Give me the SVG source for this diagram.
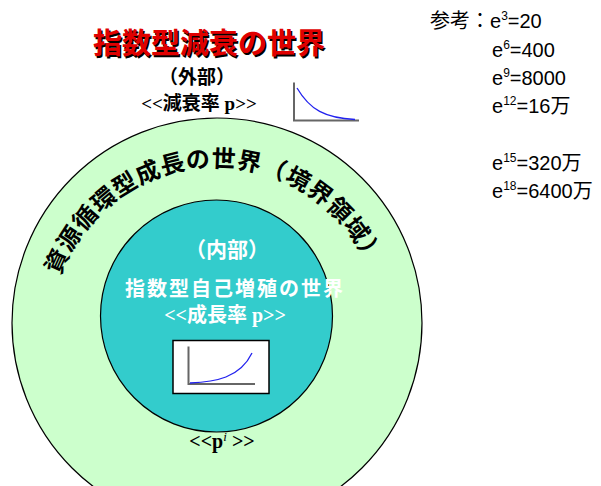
<svg xmlns="http://www.w3.org/2000/svg" xmlns:xlink="http://www.w3.org/1999/xlink" width="601" height="486" viewBox="0 0 601 486">
<style>
.jp{font-family:"Liberation Serif","Noto Sans CJK JP",serif;font-weight:bold;}
.note{font-family:"Liberation Sans","Noto Sans CJK JP",sans-serif;font-size:20px;fill:#000;}
.sup{font-size:12px;}
.axis{stroke:#666;stroke-width:2;fill:none;}
.curve{stroke:#2222ee;stroke-width:1.3;fill:none;}
</style>
<defs>
<path id="arc" d="M 50,333 A 166 166 0 0 1 382,333"/>
</defs>
<rect width="601" height="486" fill="#fff"/>
<g id="outer">
<circle cx="217" cy="323" r="205" fill="#ccffcc" stroke="#000" stroke-width="1.2"/>
<text class="jp" font-size="24" letter-spacing="0.7" fill="#000"><textPath xlink:href="#arc" startOffset="49.1%" text-anchor="middle">資源循環型成長の世界（境界領域）</textPath></text>
<text class="jp" x="222" y="448" font-size="20" text-anchor="middle" fill="#000">&lt;&lt;p<tspan font-style="italic" font-weight="normal" font-size="13" dy="-7">i</tspan><tspan dy="7"> &gt;&gt;</tspan></text>
</g>
<g id="inner">
<circle cx="216.5" cy="316" r="116" fill="#33cccc" stroke="#000" stroke-width="1.2"/>
<text class="jp" x="227" y="257" font-size="21" text-anchor="middle" fill="#fff">（内部）</text>
<text class="jp" x="235" y="296" font-size="20" letter-spacing="2" text-anchor="middle" fill="#fff">指数型自己増殖の世界</text>
<text class="jp" x="225" y="322" font-size="20" text-anchor="middle" fill="#fff">&lt;&lt;成長率 p&gt;&gt;</text>
</g>
<g id="growth-chart">
<rect x="173" y="340.5" width="96" height="53" fill="#fff" stroke="#000" stroke-width="1.5"/>
<path class="axis" d="M188.5,346.5 V384 H255"/>
<path class="curve" d="M190,383 C215,382 240,378 252,353"/>
</g>
<g id="title">
<text class="jp" x="210.5" y="55.5" font-size="29" text-anchor="middle" fill="#000">指数型減衰の世界</text>
<text class="jp" x="209" y="54" font-size="29" text-anchor="middle" fill="#e00000">指数型減衰の世界</text>
<text class="jp" x="197" y="84" font-size="19" text-anchor="middle" fill="#000">（外部）</text>
<text class="jp" x="199" y="110" font-size="19" text-anchor="middle" fill="#000">&lt;&lt;減衰率 p&gt;&gt;</text>
</g>
<g id="decay-chart">
<path class="axis" d="M294,82.5 V120.5 H359" stroke="#555"/>
<path class="curve" d="M297,88 C310,110 325,118 355,119.5"/>
</g>
<g id="notes">
<text class="note" x="430" y="28">参考：e<tspan class="sup" dy="-8">3</tspan><tspan dy="8">=20</tspan></text>
<text class="note" x="492" y="57">e<tspan class="sup" dy="-8">6</tspan><tspan dy="8">=400</tspan></text>
<text class="note" x="492" y="85">e<tspan class="sup" dy="-8">9</tspan><tspan dy="8">=8000</tspan></text>
<text class="note" x="492" y="113">e<tspan class="sup" dy="-8">12</tspan><tspan dy="8">=16万</tspan></text>
<text class="note" x="492" y="170">e<tspan class="sup" dy="-8">15</tspan><tspan dy="8">=320万</tspan></text>
<text class="note" x="492" y="198">e<tspan class="sup" dy="-8">18</tspan><tspan dy="8">=6400万</tspan></text>
</g>
</svg>
